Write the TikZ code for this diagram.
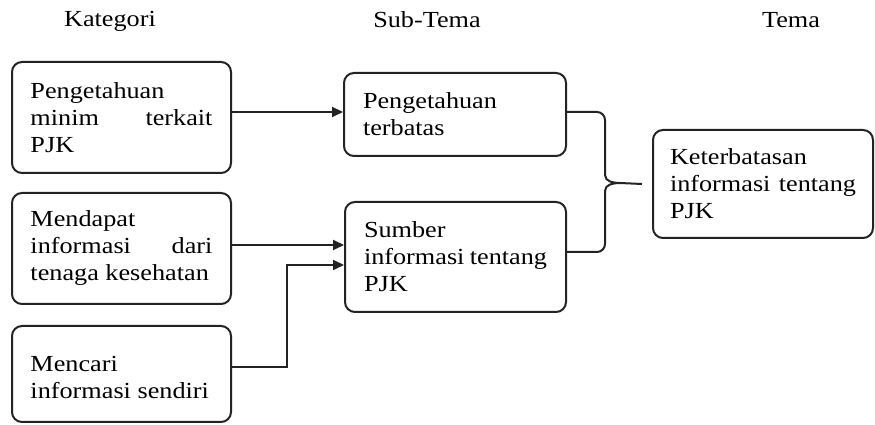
\documentclass[tikz,border=0pt]{standalone}
\usepackage{fontspec}
\setmainfont[FakeStretch=1.14]{Liberation Serif}
\usetikzlibrary{arrows.meta,calc}
\definecolor{ln}{RGB}{35,35,35}
\begin{document}
\begin{tikzpicture}[x=1pt,y=1pt,
  every node/.style={font=\fontsize{23}{27}\selectfont, text=black},
  box/.style={draw=ln, line width=2pt, rounded corners=10pt, inner xsep=0pt, inner ysep=0pt, align=left},
  lnk/.style={draw=ln, line width=2pt},
  arr/.style={lnk, -{Triangle[length=11pt,width=10pt]}},
  hdr/.style={anchor=base}
]
\useasboundingbox (0,0) rectangle (875,425);
% headers
\node[hdr] (h1) at (110,398) {Kategori};
\node[hdr] (h2) at (427,397) {Sub-Tema};
\node[hdr] (h3) at (791,397) {Tema};
% category boxes
\node[box, minimum width=219pt, minimum height=111pt] (k1) at (121.5,307.5)
  {\parbox{182pt}{Pengetahuan\\ minim\hfill terkait\\ PJK}};
\node[box, minimum width=219pt, minimum height=111pt] (k2) at (121.5,176.5)
  {\parbox{182pt}{Mendapat\\ informasi\hfill dari\\ tenaga kesehatan}};
\node[box, minimum width=219pt, minimum height=96pt] (k3) at (121.5,51)
  {\parbox{182pt}{\vspace*{6pt}Mencari\\ informasi sendiri}};
% sub-theme boxes
\node[box, minimum width=222pt, minimum height=83pt] (s1) at (455,310.5)
  {\parbox{184pt}{Pengetahuan\\ terbatas}};
\node[box, minimum width=221pt, minimum height=110pt] (s2) at (455.5,168)
  {\parbox{183pt}{Sumber\\ informasi tentang\\ PJK}};
% theme box
\node[box, minimum width=220pt, minimum height=108pt] (t1) at (763,241)
  {\parbox{186pt}{Keterbatasan\\ informasi\hfill tentang\\ PJK}};
% arrows
\draw[arr] (k1.east |- 0,313) -- (s1.west |- 0,313);
\draw[arr] (k2.east |- 0,180) -- (s2.west |- 0,180);
\coordinate (bend) at (287,58);
\draw[arr] (k3.east |- bend) -- (bend) -- (287,160) -- (s2.west |- 0,160);
% brace
\coordinate (tip) at ($(t1.west)+(-10,0)$);
\draw[lnk] (s1.east |- 0,313) -- (597,313) to[out=0,in=90] (605,305) -- (605,250)
  to[out=-90,in=180] (620,242) -- (tip);
\draw[lnk] (620,242) to[out=180,in=90] (605,234) -- (605,181)
  to[out=-90,in=0] (597,173) -- (s2.east |- 0,173);
\end{tikzpicture}
\end{document}
